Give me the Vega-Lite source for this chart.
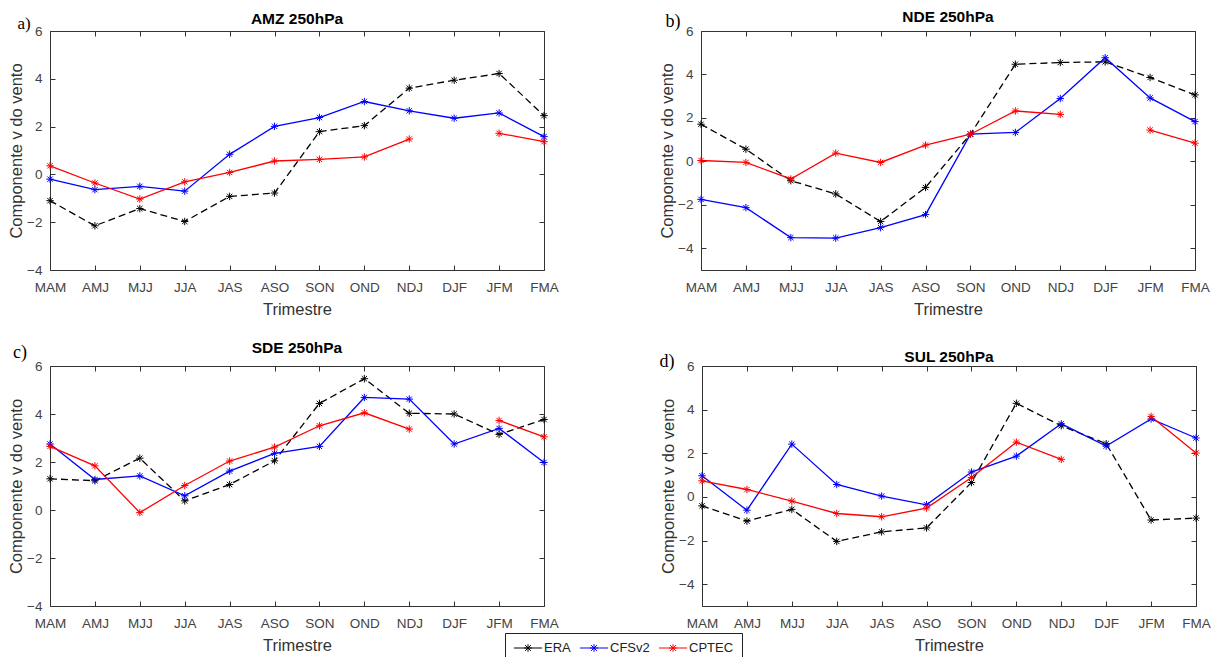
{
  "$schema": "https://vega.github.io/schema/vega-lite/v6.json",
  "padding": {"left": 8, "top": 9, "right": 0, "bottom": 0},
  "background": "white",
  "datasets": {
    "AMZ": [
      {"t":"MAM","s":"ERA","v":-1.1},{"t":"AMJ","s":"ERA","v":-2.15},{"t":"MJJ","s":"ERA","v":-1.43},{"t":"JJA","s":"ERA","v":-1.97},{"t":"JAS","s":"ERA","v":-0.92},{"t":"ASO","s":"ERA","v":-0.78},{"t":"SON","s":"ERA","v":1.79},{"t":"OND","s":"ERA","v":2.04},{"t":"NDJ","s":"ERA","v":3.61},{"t":"DJF","s":"ERA","v":3.94},{"t":"JFM","s":"ERA","v":4.22},{"t":"FMA","s":"ERA","v":2.46},
      {"t":"MAM","s":"CFSv2","v":-0.2},{"t":"AMJ","s":"CFSv2","v":-0.64},{"t":"MJJ","s":"CFSv2","v":-0.5},{"t":"JJA","s":"CFSv2","v":-0.7},{"t":"JAS","s":"CFSv2","v":0.84},{"t":"ASO","s":"CFSv2","v":2.01},{"t":"SON","s":"CFSv2","v":2.38},{"t":"OND","s":"CFSv2","v":3.05},{"t":"NDJ","s":"CFSv2","v":2.66},{"t":"DJF","s":"CFSv2","v":2.35},{"t":"JFM","s":"CFSv2","v":2.57},{"t":"FMA","s":"CFSv2","v":1.58},
      {"t":"MAM","s":"CPTEC","v":0.36},{"t":"AMJ","s":"CPTEC","v":-0.36},{"t":"MJJ","s":"CPTEC","v":-1.03},{"t":"JJA","s":"CPTEC","v":-0.31},{"t":"JAS","s":"CPTEC","v":0.08},{"t":"ASO","s":"CPTEC","v":0.56},{"t":"SON","s":"CPTEC","v":0.63},{"t":"OND","s":"CPTEC","v":0.73},{"t":"NDJ","s":"CPTEC","v":1.48},{"t":"DJF","s":"CPTEC","v":null},{"t":"JFM","s":"CPTEC","v":1.72},{"t":"FMA","s":"CPTEC","v":1.37}
    ],
    "NDE": [
      {"t":"MAM","s":"ERA","v":1.71},{"t":"AMJ","s":"ERA","v":0.56},{"t":"MJJ","s":"ERA","v":-0.89},{"t":"JJA","s":"ERA","v":-1.5},{"t":"JAS","s":"ERA","v":-2.77},{"t":"ASO","s":"ERA","v":-1.2},{"t":"SON","s":"ERA","v":1.25},{"t":"OND","s":"ERA","v":4.47},{"t":"NDJ","s":"ERA","v":4.55},{"t":"DJF","s":"ERA","v":4.58},{"t":"JFM","s":"ERA","v":3.86},{"t":"FMA","s":"ERA","v":3.06},
      {"t":"MAM","s":"CFSv2","v":-1.75},{"t":"AMJ","s":"CFSv2","v":-2.13},{"t":"MJJ","s":"CFSv2","v":-3.51},{"t":"JJA","s":"CFSv2","v":-3.53},{"t":"JAS","s":"CFSv2","v":-3.05},{"t":"ASO","s":"CFSv2","v":-2.45},{"t":"SON","s":"CFSv2","v":1.25},{"t":"OND","s":"CFSv2","v":1.33},{"t":"NDJ","s":"CFSv2","v":2.89},{"t":"DJF","s":"CFSv2","v":4.77},{"t":"JFM","s":"CFSv2","v":2.92},{"t":"FMA","s":"CFSv2","v":1.83},
      {"t":"MAM","s":"CPTEC","v":0.04},{"t":"AMJ","s":"CPTEC","v":-0.05},{"t":"MJJ","s":"CPTEC","v":-0.81},{"t":"JJA","s":"CPTEC","v":0.38},{"t":"JAS","s":"CPTEC","v":-0.05},{"t":"ASO","s":"CPTEC","v":0.75},{"t":"SON","s":"CPTEC","v":1.25},{"t":"OND","s":"CPTEC","v":2.32},{"t":"NDJ","s":"CPTEC","v":2.16},{"t":"DJF","s":"CPTEC","v":null},{"t":"JFM","s":"CPTEC","v":1.44},{"t":"FMA","s":"CPTEC","v":0.84}
    ],
    "SDE": [
      {"t":"MAM","s":"ERA","v":1.3},{"t":"AMJ","s":"ERA","v":1.22},{"t":"MJJ","s":"ERA","v":2.16},{"t":"JJA","s":"ERA","v":0.38},{"t":"JAS","s":"ERA","v":1.06},{"t":"ASO","s":"ERA","v":2.05},{"t":"SON","s":"ERA","v":4.44},{"t":"OND","s":"ERA","v":5.47},{"t":"NDJ","s":"ERA","v":4.03},{"t":"DJF","s":"ERA","v":4.0},{"t":"JFM","s":"ERA","v":3.15},{"t":"FMA","s":"ERA","v":3.77},
      {"t":"MAM","s":"CFSv2","v":2.75},{"t":"AMJ","s":"CFSv2","v":1.27},{"t":"MJJ","s":"CFSv2","v":1.42},{"t":"JJA","s":"CFSv2","v":0.59},{"t":"JAS","s":"CFSv2","v":1.62},{"t":"ASO","s":"CFSv2","v":2.36},{"t":"SON","s":"CFSv2","v":2.65},{"t":"OND","s":"CFSv2","v":4.69},{"t":"NDJ","s":"CFSv2","v":4.62},{"t":"DJF","s":"CFSv2","v":2.75},{"t":"JFM","s":"CFSv2","v":3.4},{"t":"FMA","s":"CFSv2","v":1.98},
      {"t":"MAM","s":"CPTEC","v":2.65},{"t":"AMJ","s":"CPTEC","v":1.84},{"t":"MJJ","s":"CPTEC","v":-0.11},{"t":"JJA","s":"CPTEC","v":1.02},{"t":"JAS","s":"CPTEC","v":2.04},{"t":"ASO","s":"CPTEC","v":2.62},{"t":"SON","s":"CPTEC","v":3.51},{"t":"OND","s":"CPTEC","v":4.05},{"t":"NDJ","s":"CPTEC","v":3.37},{"t":"DJF","s":"CPTEC","v":null},{"t":"JFM","s":"CPTEC","v":3.73},{"t":"FMA","s":"CPTEC","v":3.05}
    ],
    "SUL": [
      {"t":"MAM","s":"ERA","v":-0.41},{"t":"AMJ","s":"ERA","v":-1.11},{"t":"MJJ","s":"ERA","v":-0.57},{"t":"JJA","s":"ERA","v":-2.04},{"t":"JAS","s":"ERA","v":-1.6},{"t":"ASO","s":"ERA","v":-1.42},{"t":"SON","s":"ERA","v":0.66},{"t":"OND","s":"ERA","v":4.29},{"t":"NDJ","s":"ERA","v":3.26},{"t":"DJF","s":"ERA","v":2.44},{"t":"JFM","s":"ERA","v":-1.06},{"t":"FMA","s":"ERA","v":-0.97},
      {"t":"MAM","s":"CFSv2","v":0.97},{"t":"AMJ","s":"CFSv2","v":-0.61},{"t":"MJJ","s":"CFSv2","v":2.42},{"t":"JJA","s":"CFSv2","v":0.57},{"t":"JAS","s":"CFSv2","v":0.04},{"t":"ASO","s":"CFSv2","v":-0.36},{"t":"SON","s":"CFSv2","v":1.14},{"t":"OND","s":"CFSv2","v":1.87},{"t":"NDJ","s":"CFSv2","v":3.35},{"t":"DJF","s":"CFSv2","v":2.33},{"t":"JFM","s":"CFSv2","v":3.57},{"t":"FMA","s":"CFSv2","v":2.7},
      {"t":"MAM","s":"CPTEC","v":0.74},{"t":"AMJ","s":"CPTEC","v":0.34},{"t":"MJJ","s":"CPTEC","v":-0.19},{"t":"JJA","s":"CPTEC","v":-0.76},{"t":"JAS","s":"CPTEC","v":-0.91},{"t":"ASO","s":"CPTEC","v":-0.51},{"t":"SON","s":"CPTEC","v":0.89},{"t":"OND","s":"CPTEC","v":2.51},{"t":"NDJ","s":"CPTEC","v":1.72},{"t":"DJF","s":"CPTEC","v":null},{"t":"JFM","s":"CPTEC","v":3.69},{"t":"FMA","s":"CPTEC","v":2.01}
    ]
  },
  "vconcat": [
    {
      "hconcat": [
        {
          "width": 494, "height": 239,
          "title": {"text": "AMZ 250hPa"},
          "data": {"name": "AMZ"},
          "layer": [
            {"transform": [{"filter": "datum.s === 'ERA'"}],
             "mark": {"type": "line", "strokeWidth": 1.3, "strokeDash": [7, 4], "invalid": "break-paths-show-domains"},
             "encoding": {
               "x": {"field": "t", "type": "ordinal", "scale": {"type": "point", "padding": 0, "domain": ["MAM","AMJ","MJJ","JJA","JAS","ASO","SON","OND","NDJ","DJF","JFM","FMA"]}, "axis": {"title": "Trimestre", "labelAngle": 0}},
               "y": {"field": "v", "type": "quantitative", "scale": {"domain": [-4, 6], "nice": false, "zero": false}, "axis": {"values": [-4,-2,0,2,4,6], "title": "Componente v do vento"}},
               "color": {"field": "s", "type": "nominal", "scale": {"domain": ["ERA","CFSv2","CPTEC"], "range": ["#000000","#0000ff","#ff0000"]},
                 "legend": {"orient": "none", "legendX": 455, "legendY": 602, "direction": "horizontal", "title": null, "symbolType": "M-2.2,0L2.2,0M0,-0.6L0,0.6M-0.6,0L0.6,0M-0.45,-0.45L0.45,0.45M-0.45,0.45L0.45,-0.45", "symbolSize": 164, "symbolStrokeWidth": 1, "symbolOffset": 8, "labelOffset": 9, "labelFont": "Liberation Sans", "labelFontSize": 13, "labelColor": "#222222", "strokeColor": "#222222", "fillColor": "white", "padding": 8, "columnPadding": 6}}
             }},
            {"transform": [{"filter": "datum.s !== 'ERA'"}],
             "mark": {"type": "line", "strokeWidth": 1.3, "invalid": "break-paths-show-domains"},
             "encoding": {
               "x": {"field": "t", "type": "ordinal", "axis": null},
               "y": {"field": "v", "type": "quantitative", "axis": null},
               "color": {"field": "s", "type": "nominal"}
             }},
            {"mark": {"type": "point", "shape": "M-1,0L1,0M0,-1L0,1M-0.72,-0.72L0.72,0.72M-0.72,0.72L0.72,-0.72", "filled": false, "size": 55, "strokeWidth": 1, "opacity": 1},
             "encoding": {
               "x": {"field": "t", "type": "ordinal", "axis": {"orient": "top", "labels": false, "title": null}},
               "y": {"field": "v", "type": "quantitative", "axis": {"orient": "right", "labels": false, "title": null, "values": [-4,-2,0,2,4,6]}},
               "color": {"field": "s", "type": "nominal"}
             }},
            {"data": {"values": [{"lab": "a)"}]},
             "mark": {"type": "text", "font": "Liberation Serif", "fontSize": 17, "dx": -26, "dy": -7, "color": "#000000"},
             "encoding": {"x": {"datum": "MAM", "type": "ordinal", "axis": null}, "y": {"datum": 6, "type": "quantitative", "axis": null}, "text": {"field": "lab"}}}
          ],
          "resolve": {"axis": {"x": "independent", "y": "independent"}}
        },
        {
          "width": 494, "height": 239,
          "title": {"text": "NDE 250hPa"},
          "data": {"name": "NDE"},
          "layer": [
            {"transform": [{"filter": "datum.s === 'ERA'"}],
             "mark": {"type": "line", "strokeWidth": 1.3, "strokeDash": [7, 4], "invalid": "break-paths-show-domains"},
             "encoding": {
               "x": {"field": "t", "type": "ordinal", "scale": {"type": "point", "padding": 0, "domain": ["MAM","AMJ","MJJ","JJA","JAS","ASO","SON","OND","NDJ","DJF","JFM","FMA"]}, "axis": {"title": "Trimestre", "labelAngle": 0}},
               "y": {"field": "v", "type": "quantitative", "scale": {"domain": [-5, 6], "nice": false, "zero": false}, "axis": {"values": [-4,-2,0,2,4,6], "title": "Componente v do vento"}},
               "color": {"field": "s", "type": "nominal"}
             }},
            {"transform": [{"filter": "datum.s !== 'ERA'"}],
             "mark": {"type": "line", "strokeWidth": 1.3, "invalid": "break-paths-show-domains"},
             "encoding": {
               "x": {"field": "t", "type": "ordinal", "axis": null},
               "y": {"field": "v", "type": "quantitative", "axis": null},
               "color": {"field": "s", "type": "nominal"}
             }},
            {"mark": {"type": "point", "shape": "M-1,0L1,0M0,-1L0,1M-0.72,-0.72L0.72,0.72M-0.72,0.72L0.72,-0.72", "filled": false, "size": 55, "strokeWidth": 1, "opacity": 1},
             "encoding": {
               "x": {"field": "t", "type": "ordinal", "axis": {"orient": "top", "labels": false, "title": null}},
               "y": {"field": "v", "type": "quantitative", "axis": {"orient": "right", "labels": false, "title": null, "values": [-4,-2,0,2,4,6]}},
               "color": {"field": "s", "type": "nominal"}
             }},
            {"data": {"values": [{"lab": "b)"}]},
             "mark": {"type": "text", "font": "Liberation Serif", "fontSize": 18, "dx": -28, "dy": -9, "color": "#000000"},
             "encoding": {"x": {"datum": "MAM", "type": "ordinal", "axis": null}, "y": {"datum": 6, "type": "quantitative", "axis": null}, "text": {"field": "lab"}}}
          ],
          "resolve": {"axis": {"x": "independent", "y": "independent"}}
        }
      ],
      "spacing": 100
    },
    {
      "hconcat": [
        {
          "width": 494, "height": 240,
          "title": {"text": "SDE 250hPa"},
          "data": {"name": "SDE"},
          "layer": [
            {"transform": [{"filter": "datum.s === 'ERA'"}],
             "mark": {"type": "line", "strokeWidth": 1.3, "strokeDash": [7, 4], "invalid": "break-paths-show-domains"},
             "encoding": {
               "x": {"field": "t", "type": "ordinal", "scale": {"type": "point", "padding": 0, "domain": ["MAM","AMJ","MJJ","JJA","JAS","ASO","SON","OND","NDJ","DJF","JFM","FMA"]}, "axis": {"title": "Trimestre", "labelAngle": 0}},
               "y": {"field": "v", "type": "quantitative", "scale": {"domain": [-4, 6], "nice": false, "zero": false}, "axis": {"values": [-4,-2,0,2,4,6], "title": "Componente v do vento"}},
               "color": {"field": "s", "type": "nominal"}
             }},
            {"transform": [{"filter": "datum.s !== 'ERA'"}],
             "mark": {"type": "line", "strokeWidth": 1.3, "invalid": "break-paths-show-domains"},
             "encoding": {
               "x": {"field": "t", "type": "ordinal", "axis": null},
               "y": {"field": "v", "type": "quantitative", "axis": null},
               "color": {"field": "s", "type": "nominal"}
             }},
            {"mark": {"type": "point", "shape": "M-1,0L1,0M0,-1L0,1M-0.72,-0.72L0.72,0.72M-0.72,0.72L0.72,-0.72", "filled": false, "size": 55, "strokeWidth": 1, "opacity": 1},
             "encoding": {
               "x": {"field": "t", "type": "ordinal", "axis": {"orient": "top", "labels": false, "title": null}},
               "y": {"field": "v", "type": "quantitative", "axis": {"orient": "right", "labels": false, "title": null, "values": [-4,-2,0,2,4,6]}},
               "color": {"field": "s", "type": "nominal"}
             }},
            {"data": {"values": [{"lab": "c)"}]},
             "mark": {"type": "text", "font": "Liberation Serif", "fontSize": 18, "dx": -30, "dy": -13, "color": "#000000"},
             "encoding": {"x": {"datum": "MAM", "type": "ordinal", "axis": null}, "y": {"datum": 6, "type": "quantitative", "axis": null}, "text": {"field": "lab"}}}
          ],
          "resolve": {"axis": {"x": "independent", "y": "independent"}}
        },
        {
          "width": 494, "height": 240,
          "title": {"text": "SUL 250hPa"},
          "data": {"name": "SUL"},
          "layer": [
            {"transform": [{"filter": "datum.s === 'ERA'"}],
             "mark": {"type": "line", "strokeWidth": 1.3, "strokeDash": [7, 4], "invalid": "break-paths-show-domains"},
             "encoding": {
               "x": {"field": "t", "type": "ordinal", "scale": {"type": "point", "padding": 0, "domain": ["MAM","AMJ","MJJ","JJA","JAS","ASO","SON","OND","NDJ","DJF","JFM","FMA"]}, "axis": {"title": "Trimestre", "labelAngle": 0}},
               "y": {"field": "v", "type": "quantitative", "scale": {"domain": [-5, 6], "nice": false, "zero": false}, "axis": {"values": [-4,-2,0,2,4,6], "title": "Componente v do vento"}},
               "color": {"field": "s", "type": "nominal"}
             }},
            {"transform": [{"filter": "datum.s !== 'ERA'"}],
             "mark": {"type": "line", "strokeWidth": 1.3, "invalid": "break-paths-show-domains"},
             "encoding": {
               "x": {"field": "t", "type": "ordinal", "axis": null},
               "y": {"field": "v", "type": "quantitative", "axis": null},
               "color": {"field": "s", "type": "nominal"}
             }},
            {"mark": {"type": "point", "shape": "M-1,0L1,0M0,-1L0,1M-0.72,-0.72L0.72,0.72M-0.72,0.72L0.72,-0.72", "filled": false, "size": 55, "strokeWidth": 1, "opacity": 1},
             "encoding": {
               "x": {"field": "t", "type": "ordinal", "axis": {"orient": "top", "labels": false, "title": null}},
               "y": {"field": "v", "type": "quantitative", "axis": {"orient": "right", "labels": false, "title": null, "values": [-4,-2,0,2,4,6]}},
               "color": {"field": "s", "type": "nominal"}
             }},
            {"data": {"values": [{"lab": "d)"}]},
             "mark": {"type": "text", "font": "Liberation Serif", "fontSize": 18, "dx": -35, "dy": -4, "color": "#000000"},
             "encoding": {"x": {"datum": "MAM", "type": "ordinal", "axis": null}, "y": {"datum": 6, "type": "quantitative", "axis": null}, "text": {"field": "lab"}}}
          ],
          "resolve": {"axis": {"x": "independent", "y": "independent"}}
        }
      ],
      "spacing": 100
    }
  ],
  "spacing": 21,
  "config": {
    "font": "Liberation Sans",
    "view": {"stroke": "#333333", "strokeWidth": 1},
    "axis": {"domain": false, "grid": false, "labelFont": "Liberation Sans", "labelFontSize": 13.5, "labelColor": "#444444", "titleFont": "Liberation Sans", "titleFontSize": 16.5, "titleFontWeight": "normal", "titleColor": "#333333", "tickColor": "#333333", "tickSize": -5, "labelPadding": 15, "titlePadding": 8},
    "axisY": {"labelPadding": 13, "titlePadding": 2},
    "title": {"font": "Liberation Sans", "fontSize": 15.5, "fontWeight": "bold", "color": "#000000", "offset": -12}
  }
}
